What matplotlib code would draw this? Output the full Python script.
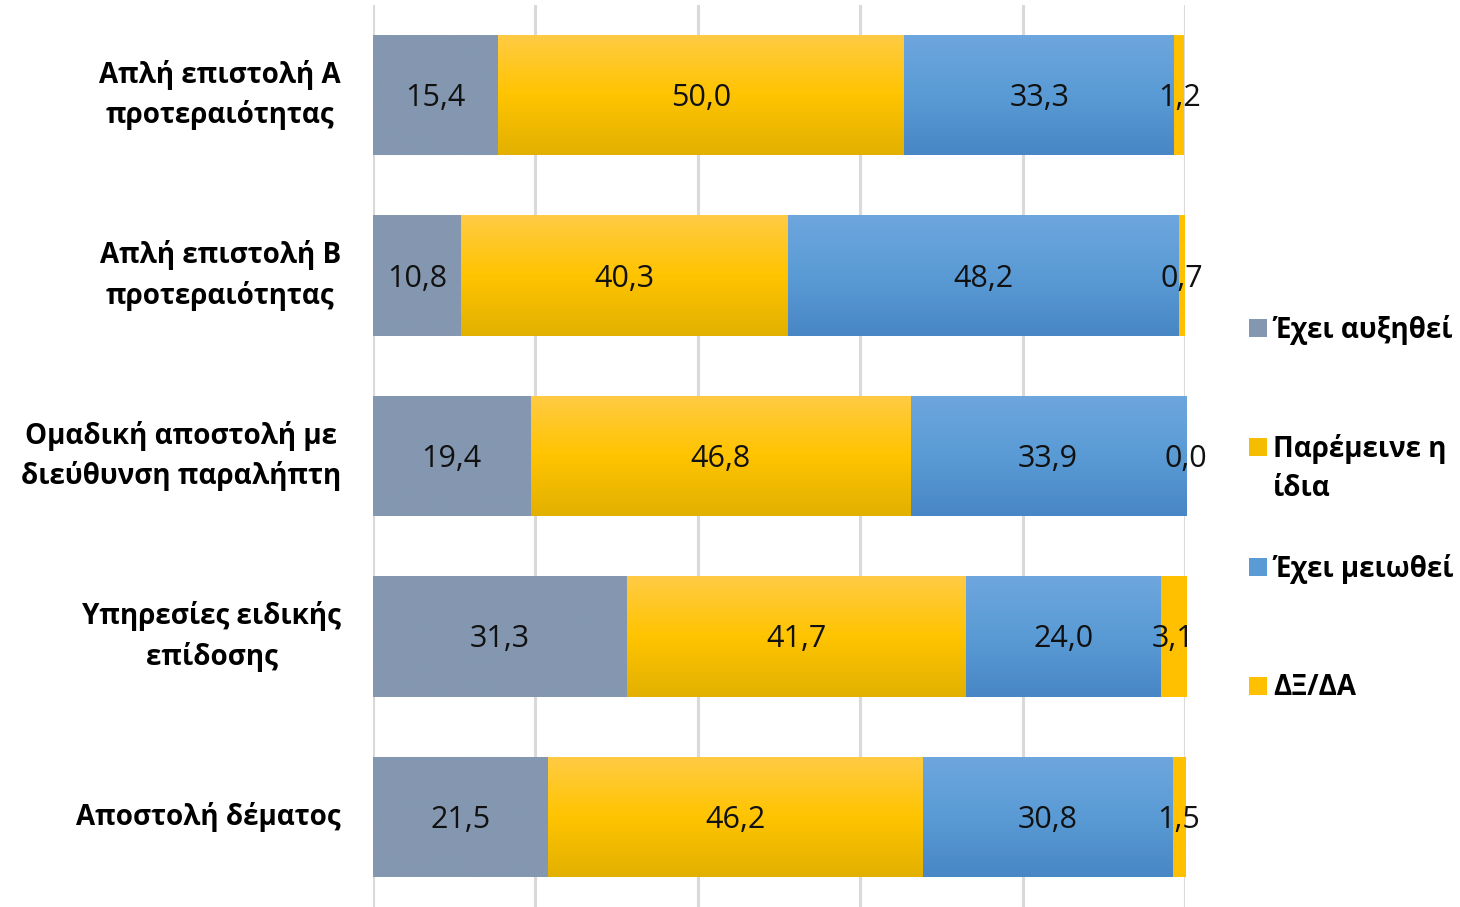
import numpy as np
import matplotlib.pyplot as plt
from matplotlib.colors import LinearSegmentedColormap
from matplotlib.patches import Rectangle

plt.rcParams['font.family'] = ['Open Sans', 'DejaVu Sans']

categories = [
    'Απλή επιστολή Α\nπροτεραιότητας',
    'Απλή επιστολή Β\nπροτεραιότητας',
    'Ομαδική αποστολή με\nδιεύθυνση παραλήπτη',
    'Υπηρεσίες ειδικής\nεπίδοσης',
    'Αποστολή δέματος',
]
series_names = ['Έχει αυξηθεί', 'Παρέμεινε η\nίδια', 'Έχει μειωθεί', 'ΔΞ/ΔΑ']
increased = [15.4, 10.8, 19.4, 31.3, 21.5]
same = [50.0, 40.3, 46.8, 41.7, 46.2]
decreased = [33.3, 48.2, 33.9, 24.0, 30.8]
dk_na = [1.2, 0.7, 0.0, 3.1, 1.5]
series = [increased, same, decreased, dk_na]

# (top, middle, bottom) colours of each series' vertical gradient
gradients = [
    ('#8497B0', '#8497B0', '#8497B0'),
    ('#FFCB45', '#FFC400', '#E2B000'),
    ('#6EA6DE', '#5A9BD5', '#4886C5'),
    ('#FFC000', '#FFC000', '#FFC000'),
]
legend_colors = ['#8497B0', '#F5BD00', '#5A9BD5', '#FFC000']

fig = plt.figure(figsize=(14.6, 9.07), dpi=100)
ax = fig.add_axes([373 / 1460, 0.0, 812 / 1460, 902 / 907])

y = np.arange(len(categories))
h = 0.667
grad = np.linspace(0, 1, 256).reshape(-1, 1)
left = np.zeros(len(categories))
for vals, cols in zip(series, gradients):
    cmap = LinearSegmentedColormap.from_list('g', list(cols))
    bars = ax.barh(y, vals, left=left, height=h, color='none', linewidth=0, zorder=2)
    for bar, v, l, yi in zip(bars, vals, left, y):
        im = ax.imshow(grad, cmap=cmap, aspect='auto', zorder=2,
                       extent=(l, l + v, yi + h / 2, yi - h / 2))
        im.set_clip_path(bar)
        ax.annotate(f'{v:.1f}'.replace('.', ','), xy=(l + v / 2, yi), xytext=(0, -3),
                    textcoords='offset pixels', ha='center', va='center',
                    fontsize=22, color='#111111', zorder=4, annotation_clip=False)
    left = left + np.array(vals)

ax.set_xlim(0, 100)
ax.set_ylim(len(categories) - 0.5, -0.5)
ax.set_xticks(np.arange(0, 101, 20))
ax.grid(axis='x', color='#D9D9D9', linewidth=2.2, zorder=0)
ax.set_axisbelow(True)
ax.tick_params(length=0, labelbottom=False, labelleft=False)
for s in ax.spines.values():
    s.set_visible(False)

for yi, cat in zip(y, categories):
    ax.annotate(cat, xy=(0, yi), xycoords='data', xytext=(-32, 0), textcoords='offset pixels',
                ha='right', va='center', multialignment='center', fontsize=20,
                fontweight='bold', linespacing=1.45, annotation_clip=False)

# legend on the right
leg_y = [328, 447, 567, 686]
for name, col, ly in zip(series_names, legend_colors, leg_y):
    fy = 1 - ly / 907
    fig.add_artist(Rectangle((1249 / 1460, fy - 9 / 907), 18 / 1460, 18 / 907,
                             transform=fig.transFigure, facecolor=col, edgecolor='none'))
    fig.text(1273 / 1460, fy + 13 / 907, name, ha='left', va='top', fontsize=20,
             fontweight='bold', linespacing=1.45)

fig.savefig('out.png', dpi=100)
